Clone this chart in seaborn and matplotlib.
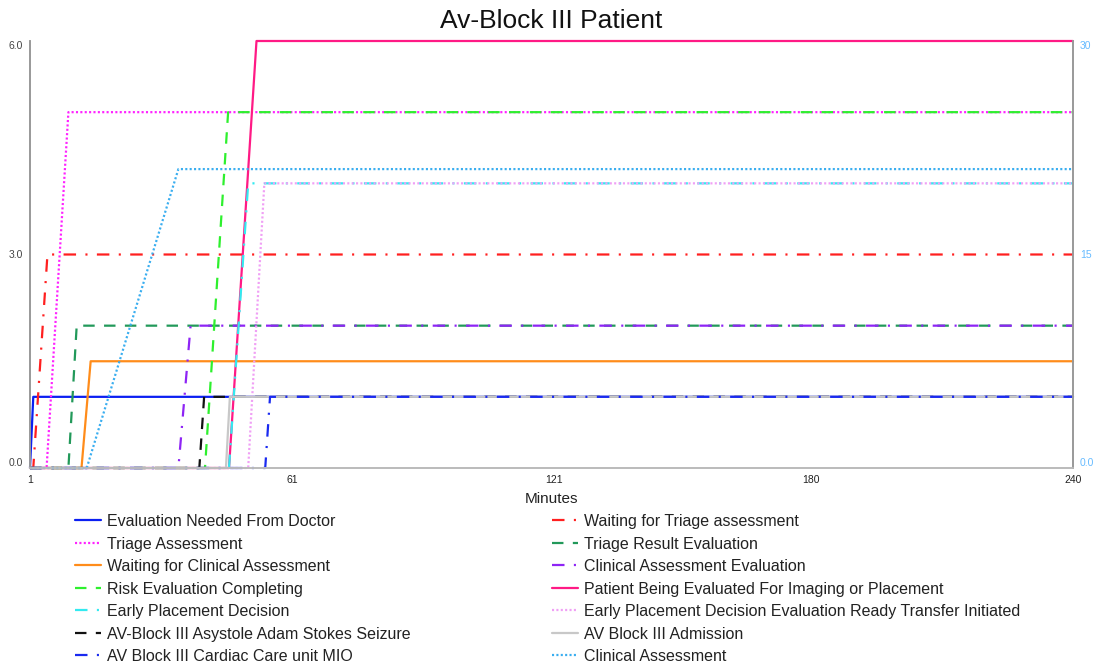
import matplotlib
matplotlib.use("Agg")
import matplotlib.pyplot as plt
import seaborn as sns
import pandas as pd

# Series names, in drawing order
series_names = [
    "Evaluation Needed From Doctor",
    "Waiting for Triage assessment",
    "Triage Assessment",
    "Triage Result Evaluation",
    "Waiting for Clinical Assessment",
    "Clinical Assessment Evaluation",
    "Risk Evaluation Completing",
    "Patient Being Evaluated For Imaging or Placement",
    "Early Placement Decision",
    "Early Placement Decision Evaluation Ready Transfer Initiated",
    "AV-Block III Asystole Adam Stokes Seizure",
    "AV Block III Admission",
    "AV Block III Cardiac Care unit MIO",
    "Clinical Assessment",
]

# Minute at which each series starts rising, minute it reaches its level, and that level
rise_start = [1.0, 1.75, 4.8, 9.8, 12.8, 35.0, 41.1, 46.6, 46.6, 51.0, 39.8, 45.9, 54.9, 14.0]
rise_end = [1.75, 5.0, 9.8, 11.7, 14.9, 37.8, 46.4, 52.9, 51.0, 54.7, 40.9, 46.8, 56.0, 35.0]
levels = [1, 3, 5, 2, 1.5, 2, 5, 6, 4, 4, 1, 1, 1, 21]
# Clinical Assessment is plotted against the secondary (right) axis
right_axis = [False] * 13 + [True]

t_first, t_last = 1, 240
x_ticks = [1, 61, 121, 180, 240]
left_ticks = [0, 3, 6]
left_tick_labels = ["0.0", "3.0", "6.0"]
right_ticks = [0, 15, 30]
right_tick_labels = ["0.0", "15", "30"]

colors = [
    "#0b1ff2", "#ff1f1f", "#ff22ff", "#22995a", "#ff8c1a", "#8e24f5", "#2ef02e",
    "#ff1a85", "#33eaf0", "#f0a0f5", "#111111", "#c8c8c8", "#1a2af0", "#3aaef0",
]
px = 0.75  # one pixel in points at 100 dpi
dashed = (0, (11 * px, 9 * px))
dashdot = (0, (12 * px, 9 * px, 2 * px, 9 * px))
dotted = (0, (2 * px, 2.2 * px))
styles = [
    "-", dashdot, dotted, dashed, "-", dashdot, dashed,
    "-", dashdot, dotted, dashed, "-", dashdot, dotted,
]

sns.set_theme(style="white")
plt.rcParams["font.family"] = ["Liberation Sans", "DejaVu Sans"]
plt.rcParams["lines.scale_dashes"] = False

W, H = 1095, 669
fig = plt.figure(figsize=(W / 100, H / 100), dpi=100)
x0, x1, y_top, y_bot = 30, 1073, 41, 468
ax = fig.add_axes([x0 / W, 1 - y_bot / H, (x1 - x0) / W, (y_bot - y_top) / H])
ax2 = ax.twinx()

handles = []
for i, name in enumerate(series_names):
    df = pd.DataFrame({
        "minute": [t_first, rise_start[i], rise_end[i], t_last],
        "value": [0, 0, levels[i], levels[i]],
    })
    target = ax2 if right_axis[i] else ax
    sns.lineplot(data=df, x="minute", y="value", ax=target, color=colors[i],
                 linestyle=styles[i], linewidth=1.6, estimator=None, sort=False,
                 label=name, legend=False, clip_on=False)
    handles.append(target.get_lines()[-1])

ax.set_xlim(t_first, t_last)
ax.set_ylim(0, 6)
ax2.set_ylim(0, 30)

ax.set_xticks(x_ticks)
ax.set_xticklabels([str(v) for v in x_ticks], fontsize=7.5, color="#222222")
ax.set_yticks(left_ticks)
ax.set_yticklabels(left_tick_labels, fontsize=7.5, color="#444444")
ax2.set_yticks(right_ticks)
ax2.set_yticklabels(right_tick_labels, fontsize=7.5, color="#66bbff")
ax.tick_params(axis="both", length=0, pad=5)
ax2.tick_params(axis="y", length=0, pad=5)
for labels in (ax.get_yticklabels(), ax2.get_yticklabels()):
    labels[0].set_va("bottom")
    labels[-1].set_va("top")

for a in (ax, ax2):
    a.grid(False)
    a.spines["top"].set_visible(False)
    a.spines["left"].set_color("#999999")
    a.spines["right"].set_color("#999999")
    a.spines["bottom"].set_color("#bbbbbb")
    for s in ("left", "right", "bottom"):
        a.spines[s].set_linewidth(1.2)
ax2.set_ylabel("")
ax.set_ylabel("")
ax.set_xlabel("Minutes", fontsize=11, color="#222222", labelpad=5)

fig.text((x0 + x1) / 2 / W, 1 - 21 / H, "Av-Block III Patient", ha="center",
         va="center", fontsize=19, color="#111111")

# Two-column legend below the plot, filled row by row
left_col = handles[0::2]
right_col = handles[1::2]
leg_kw = dict(loc="upper left", frameon=False, fontsize=11.5, borderpad=0,
              borderaxespad=0, handlelength=1.65, handletextpad=0.35,
              labelspacing=0.47, labelcolor="#222222")
leg1 = fig.legend(left_col, [h.get_label() for h in left_col],
                  bbox_to_anchor=(75 / W, 1 - 514 / H), **leg_kw)
leg2 = fig.legend(right_col, [h.get_label() for h in right_col],
                  bbox_to_anchor=(552 / W, 1 - 514 / H), **leg_kw)

fig.savefig("out.png", dpi=100)
